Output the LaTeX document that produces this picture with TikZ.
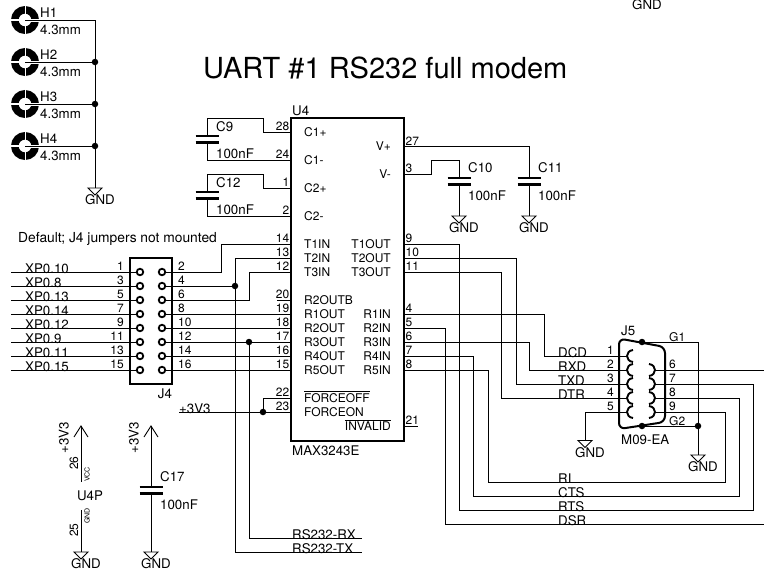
\documentclass[tikz,border=0pt]{standalone}
\usepackage{fontspec}
\setmainfont{TeX Gyre Heros}
\newcommand{\ovl}[1]{\vbox{\hrule height .8pt\kern1.2pt\hbox{#1}}}
\tikzset{
  wire/.style={line width=.9pt},
  lbl/.style={inner sep=0pt,anchor=base west,font=\fontsize{13.3}{15}\selectfont},
  pinnum/.style={inner sep=0pt,font=\fontsize{12}{14}\selectfont},
  pinname/.style={inner sep=0pt,font=\fontsize{12}{14}\selectfont},
  chipbox/.style={draw,line width=2pt,inner sep=0pt},
  junc/.style={circle,fill=black,inner sep=0pt,minimum size=6.5pt},
  jpin/.style={circle,draw,fill=white,line width=1.8pt,inner sep=0pt,minimum size=6.5pt},
  plate/.style={line width=2.8pt},
  contact/.style={line width=1.9pt}
}
\begin{document}
\begin{tikzpicture}[x=1pt,y=-1pt]
\useasboundingbox (0,0) rectangle (764,571);

\node[lbl] (title) at (203,78) {\fontsize{29}{32}\selectfont UART \#1 RS232 full modem};
\node[lbl,anchor=base] (gndtop) at (647,9) {GND};

% mounting holes
\foreach \n/\y in {1/20,2/62,3/104,4/146} {
   \coordinate (hole\n) at (25,\y);
   \draw[line width=7.5pt] (hole\n) circle (10.2pt);
   \draw[white,line width=1.6pt] (10,\y) -- (19,\y);
   \draw[white,line width=3pt] (31,\y) -- (40,\y);
   \draw[white,line width=.8pt] (25,\y-15) -- (25,\y-5);
   \draw[white,line width=.8pt] (25,\y+5) -- (25,\y+15);
   \node[lbl] (hn\n) at (40,\y-3) {H\n};
   \node[lbl] (hv\n) at (40,\y+14) {4.3mm};
}
\foreach \n/\y in {2/62,3/104,4/146} {
   \node[junc] (dotH\n) at (95,\y) {};
   \draw[wire] (hole\n) -- (dotH\n);
}

% GND symbols
\foreach \g/\x/\y in {gH/95/188,gC10/459/216,gC11/529/216,gA/585/440.5,gB/698/455,gU/81/552,gC17/151/552} {
   \coordinate (\g) at (\x,\y);
   \draw[wire] (\x-7,\y) -- (\x+7,\y) -- (\x,\y+7) -- cycle;
   \node[lbl,anchor=base] (t\g) at (\x+5,\y+16.5) {GND};
}
\draw[wire] (hole1) -| (gH);

% U4
\node[chipbox,minimum width=113pt,minimum height=323pt] (U4) at (347.5,279.5) {};
\node[lbl] (U4n) at (292,115) {U4};
\node[lbl] (U4v) at (292,455) {MAX3243E};
\foreach \n/\y/\t in {28/132/C1+,24/160/C1-,1/188/C2+,2/216/C2-,14/244/T1IN,13/258/T2IN,12/272/T3IN,
   20/300/R2OUTB,19/314/R1OUT,18/328/R2OUT,17/342/R3OUT,16/356/R4OUT,15/370/R5OUT,
   22/398/{\ovl{FORCEOFF}},23/412/FORCEON} {
   \coordinate (p\n) at (291,\y);
   \node[pinnum,anchor=base east] (pn\n) at (289.5,\y-1.5) {\n};
   \node[pinname,anchor=base west] (pt\n) at (304,\y+4.3) {\t};
}
\foreach \n/\y/\t in {27/146.5/V+,3/174/V-,9/244/T1OUT,10/258/T2OUT,11/272/T3OUT,
   4/314/R1IN,5/328/R2IN,6/342/R3IN,7/356/R4IN,8/370/R5IN,21/426/{\ovl{INVALID}}} {
   \coordinate (p\n) at (404,\y);
   \node[pinnum,anchor=base west] (pn\n) at (405.5,\y-1.5) {\n};
   \node[pinname,anchor=base east] (pt\n) at (391,\y+4.3) {\t};
}
\draw[wire] (p20) -- ++(-14,0);
\draw[wire] (p21) -- ++(14,0);

% capacitors
\foreach \c/\x/\y in {C9/207/136,C12/207/192,C10/459/178,C11/529/178,C17/151/487} {
   \coordinate (t\c) at (\x,\y);
   \coordinate (b\c) at (\x,\y+6.5);
   \draw[plate] (\x-11.5,\y) -- (\x+11.5,\y);
   \draw[plate] (\x-11.5,\y+6.5) -- (\x+11.5,\y+6.5);
}
\node[lbl] (C9n) at (216,131) {C9};
\node[lbl] (C9v) at (216,158) {100nF};
\node[lbl] (C12n) at (216,187) {C12};
\node[lbl] (C12v) at (216,214) {100nF};
\node[lbl] (C10n) at (468,172) {C10};
\node[lbl] (C10v) at (468,200) {100nF};
\node[lbl] (C11n) at (538,172) {C11};
\node[lbl] (C11v) at (538,200) {100nF};
\node[lbl] (C17n) at (160,481) {C17};
\node[lbl] (C17v) at (160,509) {100nF};
\draw[wire] (p28) -- ++(-28,0) -- ++(0,-14) -| (tC9);
\draw[wire] (bC9) |- (p24);
\draw[wire] (p1) -- ++(-28,0) -- ++(0,-14) -| (tC12);
\draw[wire] (bC12) |- (p2);
\draw[wire] (p3) -- ++(27,0) -- ++(0,-14) -| (tC10);
\draw[wire] (bC10) -- (gC10);
\draw[wire] (p27) -| (tC11);
\draw[wire] (bC11) -- (gC11);

% J4
\node[chipbox,minimum width=42pt,minimum height=126pt] (J4) at (151,321) {};
\node[lbl,anchor=base] (J4n) at (165,398) {J4};
\foreach \a/\b/\y/\t in {1/2/272/XP0.10,3/4/286/XP0.8,5/6/300/XP0.13,7/8/314/XP0.14,
   9/10/328/XP0.12,11/12/342/XP0.9,13/14/356/XP0.11,15/16/370/XP0.15} {
   \node[jpin] (j\a) at (140,\y) {};
   \node[jpin] (j\b) at (162,\y) {};
   \coordinate (xp\a) at (11,\y);
   \draw[wire] (xp\a) -- (j\a);
   \node[lbl] (xt\a) at (25,\y+1) {\t};
   \node[pinnum,anchor=base east] (jn\a) at (124,\y-1.5) {\a};
   \node[pinnum,anchor=base west] (jn\b) at (178,\y-1.5) {\b};
}
\node[lbl,font=\fontsize{13.8}{15}\selectfont] (note) at (18,242) {Default; J4 jumpers not mounted};
\node[junc] (dotA) at (235,286) {};
\node[junc] (dotB) at (249,342) {};
\node[junc] (dotC) at (263,412) {};
\coordinate (endTX) at (362,552);
\coordinate (endRX) at (362,538);
\coordinate (v3end) at (179,412);
\draw[wire] (j2) -- ++(59,0) |- (p14);
\draw[wire] (p13) -- ++(-56,0) |- (endTX);
\draw[wire] (j4) -- (dotA);
\draw[wire] (j6) -- ++(87,0) |- (p12);
\draw[wire] (j8) -- (p19);
\draw[wire] (j10) -- (p18);
\draw[wire] (j12) -- (p17);
\draw[wire] (j14) -- (p16);
\draw[wire] (j16) -- (p15);
\draw[wire] (dotB) |- (endRX);
\draw[wire] (v3end) -- (p23);
\draw[wire] (dotC) |- (p22);
\node[lbl] (v3t) at (179,413) {+3V3};
\node[lbl] (rxt) at (292,539) {RS232-RX};
\node[lbl] (txt) at (292,553) {RS232-TX};

% J5
\draw[line width=2pt,rounded corners=6pt] (619,338.5) -- (665,347) -- (665,422) -- (619,429) -- cycle;
\node[lbl] (J5n) at (621,335) {J5};
\node[lbl] (J5v) at (621,444) {M09-EA};
\node[junc] (dotG1) at (642,342) {};
\node[junc] (dotG2) at (642,426) {};
\node[junc] (dotG3) at (698,426) {};
\foreach \n/\y in {1/356,2/370,3/384,4/398,5/412} {
   \coordinate (c\n) at (627,\y);
   \draw[contact] (633,\y-6) .. controls (625,\y-5) and (625,\y+5) .. (633,\y+6);
   \node[pinnum,anchor=base east] (cn\n) at (614,\y-1.5) {\n};
}
\foreach \n/\y in {6/370,7/384,8/398,9/412} {
   \coordinate (c\n) at (655,\y);
   \draw[contact] (649,\y-6) .. controls (657,\y-5) and (657,\y+5) .. (649,\y+6);
   \node[pinnum,anchor=base west] (cn\n) at (669,\y-1.5) {\n};
}
\node[pinnum,anchor=base west] (G1n) at (669,341) {G1};
\node[pinnum,anchor=base west] (G2n) at (669,425) {G2};
\coordinate (turnRTS) at (753,510);
\coordinate (turnCTS) at (739,496);
\coordinate (turnRI) at (725,482);
\coordinate (endDSR) at (764,524);
\coordinate (end6) at (764,370);
\draw[wire] (p9) -- ++(55,0) |- (turnRTS) |- (c7);
\draw[wire] (p10) -- ++(112,0) |- (c3);
\draw[wire] (p11) -- ++(97,0) |- (c4);
\draw[wire] (p4) -- ++(140,0) |- (c1);
\draw[wire] (p5) -- ++(41,0) |- (endDSR);
\draw[wire] (p6) -- ++(125,0) |- (c2);
\draw[wire] (p7) -- ++(69,0) |- (turnCTS) |- (c8);
\draw[wire] (p8) -- ++(84,0) |- (turnRI) |- (c9);
\draw[wire] (c6) -- (end6);
\draw[wire] (c5) -| (gA);
\draw[wire] (dotG1) -| (gB);
\draw[wire] (dotG2) -- (dotG3);
\foreach \t/\y in {DCD/357,RXD/371,TXD/385,DTR/399,RI/483,CTS/497,RTS/511,DSR/525} {
   \node[lbl] (s\t) at (558,\y) {\t};
}

% power
\foreach \n/\x in {U/81,C/151} {
   \coordinate (vcc\n) at (\x,426);
   \draw[wire] (\x-7,437) -- (vcc\n) -- (\x+7,437);
}
\node[lbl,anchor=center,rotate=90] (v3U) at (64,438) {+3V3};
\node[lbl,anchor=center,rotate=90] (v3C) at (134,438) {+3V3};
\draw[wire] (vccC) -- (tC17);
\draw[wire] (bC17) -- (gC17);
\coordinate (pwrA) at (81,482);
\coordinate (pwrB) at (81,510);
\draw[wire] (vccU) -- (pwrA);
\draw[wire] (pwrB) -- (gU);
\node[pinnum,rotate=90] (n26) at (74,463) {26};
\node[pinnum,rotate=90] (n25) at (74,530) {25};
\node[inner sep=0pt,rotate=90,font=\fontsize{7}{8}\selectfont] (tvcc) at (87,474.5) {VCC};
\node[inner sep=0pt,rotate=90,font=\fontsize{7}{8}\selectfont] (tgnd) at (87,516) {GND};
\node[lbl,anchor=center] (U4P) at (90,496) {U4P};
\end{tikzpicture}
\end{document}
